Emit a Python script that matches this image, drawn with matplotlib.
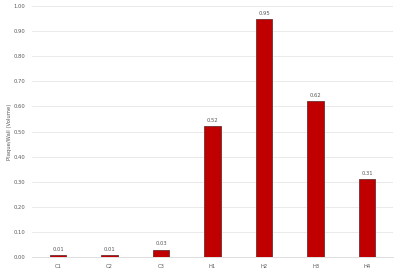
import matplotlib
matplotlib.use("Agg")
import matplotlib.pyplot as plt
import numpy as np

categories = ["C1", "C2", "C3", "H1", "H2", "H3", "H4"]
values = [0.01, 0.01, 0.03, 0.52, 0.95, 0.62, 0.31]
yticks = [0.0, 0.1, 0.2, 0.3, 0.4, 0.5, 0.6, 0.7, 0.8, 0.9, 1.0]

fig = plt.figure(figsize=(4.0, 2.72), dpi=100)
ax = fig.add_axes([0.081, 0.055, 0.901, 0.923])
x = np.arange(len(categories))
ax.bar(x, values, width=0.32, color="#C00000", edgecolor="#6E3030", linewidth=0.6, zorder=3)
for xi, v in zip(x, values):
    ax.text(xi, v + 0.012, f"{v:.2f}", ha="center", va="bottom", fontsize=3.8, color="#595959")
ax.set_xlim(-0.5, len(categories) - 0.5)
ax.set_ylim(0, 1.0)
ax.set_yticks(yticks)
ax.set_yticklabels([f"{t:.2f}" for t in yticks])
ax.set_xticks(x)
ax.set_xticklabels(categories)
ax.tick_params(axis="both", length=0, labelsize=3.8, labelcolor="#595959", pad=5)
ax.grid(axis="y", color="#E6E6E6", linewidth=0.6, zorder=0)
for s in ["top", "right", "left"]:
    ax.spines[s].set_visible(False)
ax.spines["bottom"].set_color("#D9D9D9")
ax.spines["bottom"].set_linewidth(0.6)
ax.set_ylabel("Plaque/Wall (Volume)", fontsize=3.8, color="#595959", labelpad=1)
fig.savefig("out.png", dpi=100)
